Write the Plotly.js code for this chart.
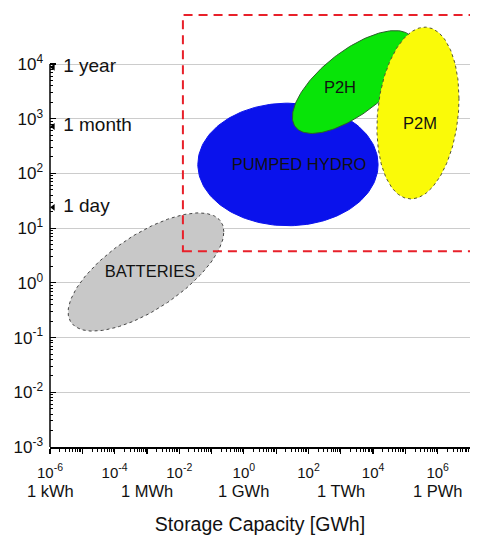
<!DOCTYPE html>
<html><head><meta charset="utf-8">
<script src="https://cdn.plot.ly/plotly-3.0.1.min.js"></script>
<style>html,body{margin:0;padding:0;background:#fff}#chart{width:479px;height:540px}</style>
</head><body><div id="chart"></div>
<script>
// ---- data ----
const technologies = ['BATTERIES', 'PUMPED HYDRO', 'P2H', 'P2M'];
// ellipse centres: storage capacity [GWh], discharge time [h]
const centerCapacity = [9.35e-4, 23.2, 2470, 2.45e5];
const centerDuration = [1.58, 146, 4690, 1270];
// half extents of each ellipse, in decades
const spanCapacity = [2.41, 2.79, 1.89, 1.27];
const spanDuration = [1.08, 1.12, 0.94, 1.57];
// tilt (correlation between log capacity and log duration)
const tilt = [0.68, 0.0, 0.68, 0.17];
// label positions
const labelCapacity = [1.24e-3, 51, 946, 2.83e5];
const labelDuration = [1.51, 137, 3490, 769];
// reference durations
const refNames = ['1 year', '1 month', '1 day'];
const refDuration = [8760, 720, 24];
const refCapacity = [1.25e-6, 1.25e-6, 1.25e-6];
// highlighted region (dashed box)
const regionCapacity = [0.013, 1e9];
const regionDuration = [3.8, 7.9e4];
// axis ticks
const xTickExp = [-6, -5, -4, -3, -2, -1, 0, 1, 2, 3, 4, 5, 6];
const unitExp = [-6, -3, 0, 3, 6];
const unitNames = ['1 kWh', '1 MWh', '1 GWh', '1 TWh', '1 PWh'];
const yTickExp = [-3, -2, -1, 0, 1, 2, 3, 4];

// ---- styles ----
const fills = ['#c8c8c8', '#0a12ec', '#08e408', '#fafa08'];
const outlines = ['#444444', '#0a12ec', '#2b5e2b', '#555533'];
const dashes = ['dot', 'solid', 'solid', 'dot'];

const xRange = [-6, 7];
const yRange = [-3, 4.951];
const FONT = 'Liberation Sans, Arial, sans-serif';

const traces = [];
technologies.forEach((name, i) => {
  const cx = Math.log10(centerCapacity[i]);
  const cy = Math.log10(centerDuration[i]);
  const rho = tilt[i];
  const xs = [], ys = [];
  for (let k = 0; k <= 180; k++) {
    const t = 2 * Math.PI * k / 180;
    xs.push(Math.pow(10, cx + spanCapacity[i] * Math.cos(t)));
    ys.push(Math.pow(10, cy + spanDuration[i] * (rho * Math.cos(t) + Math.sqrt(1 - rho * rho) * Math.sin(t))));
  }
  traces.push({
    type: 'scatter', mode: 'lines', x: xs, y: ys, fill: 'toself',
    fillcolor: fills[i], line: {color: outlines[i], width: 1, dash: dashes[i]},
    hoverinfo: 'skip', showlegend: false
  });
});
traces.push({
  type: 'scatter', mode: 'text', x: labelCapacity, y: labelDuration, text: technologies,
  textposition: 'middle center', textfont: {family: FONT, size: 16.5, color: '#111111'},
  hoverinfo: 'skip', showlegend: false, cliponaxis: false
});
traces.push({
  type: 'scatter', mode: 'markers+text', x: refCapacity, y: refDuration,
  text: refNames.map(s => '\u00a0' + s),
  textposition: 'middle right', textfont: {family: FONT, size: 19, color: '#111111'},
  marker: {symbol: 'triangle-left', size: 6, color: '#000000'},
  hoverinfo: 'skip', showlegend: false, cliponaxis: false
});

const sup = e => '10<sup>' + e + '</sup>';
const xTickVals = xTickExp.map(e => Math.pow(10, e));
const xTickText = xTickExp.map(e => (e % 2 === 0 ? sup(e) : ''));
const yTickVals = yTickExp.map(e => Math.pow(10, e));
const yTickText = yTickExp.map(e => sup(e));
const minorX = [], minorY = [];
for (let e = -6; e <= 6; e++) for (let m = 2; m <= 9; m++) minorX.push(m * Math.pow(10, e));
for (let e = -3; e <= 3; e++) for (let m = 2; m <= 9; m++) minorY.push(m * Math.pow(10, e));

const annotations = unitExp.map((e, i) => ({
  xref: 'x', yref: 'paper', x: e, y: -0.1, yanchor: 'middle', xanchor: 'center',
  text: unitNames[i], showarrow: false, font: {family: FONT, size: 16.5, color: '#111111'}
}));

const layout = {
  width: 479, height: 540,
  margin: {l: 50, r: 9, t: 12, b: 93},
  paper_bgcolor: '#ffffff', plot_bgcolor: '#ffffff',
  showlegend: false,
  font: {family: FONT, color: '#111111'},
  xaxis: {
    type: 'log', range: xRange, showgrid: false, zeroline: false,
    showline: true, linecolor: '#000000', linewidth: 1.5,
    tickmode: 'array', tickvals: xTickVals, ticktext: xTickText,
    ticks: 'outside', ticklen: 5, tickwidth: 1.2, tickcolor: '#000000',
    ticklabelstandoff: 6,
    tickfont: {family: FONT, size: 15, color: '#111111'},
    minor: {tickmode: 'array', tickvals: minorX, ticks: 'outside', ticklen: 3, tickwidth: 1, tickcolor: '#000000', showgrid: false},
    title: {text: 'Storage Capacity [GWh]', font: {family: FONT, size: 19.5, color: '#111111'}, standoff: 38}
  },
  yaxis: {
    type: 'log', range: yRange, showgrid: true, gridcolor: '#cccccc', gridwidth: 1, zeroline: false,
    showline: false,
    tickmode: 'array', tickvals: yTickVals, ticktext: yTickText,
    ticks: 'inside', ticklen: 6, tickwidth: 1.2, tickcolor: '#000000',
    ticklabelstandoff: 6,
    tickfont: {family: FONT, size: 17, color: '#111111'},
    minor: {tickmode: 'array', tickvals: minorY, ticks: 'inside', ticklen: 3, tickwidth: 1, tickcolor: '#000000', showgrid: false}
  },
  shapes: [
    {type: 'rect', xref: 'x', yref: 'y', x0: regionCapacity[0], x1: regionCapacity[1],
     y0: regionDuration[0], y1: regionDuration[1], line: {color: '#e8202a', width: 2, dash: '9px,6px'}, layer: 'above'},
    {type: 'line', xref: 'paper', yref: 'y', x0: 0, x1: 0, y0: Math.pow(10, yTickExp[0]), y1: Math.pow(10, yTickExp[yTickExp.length - 1]),
     line: {color: '#000000', width: 1.5}, layer: 'above'}
  ],
  annotations: annotations
};

Plotly.newPlot('chart', traces, layout, {displayModeBar: false, staticPlot: true});
</script>
</body></html>
